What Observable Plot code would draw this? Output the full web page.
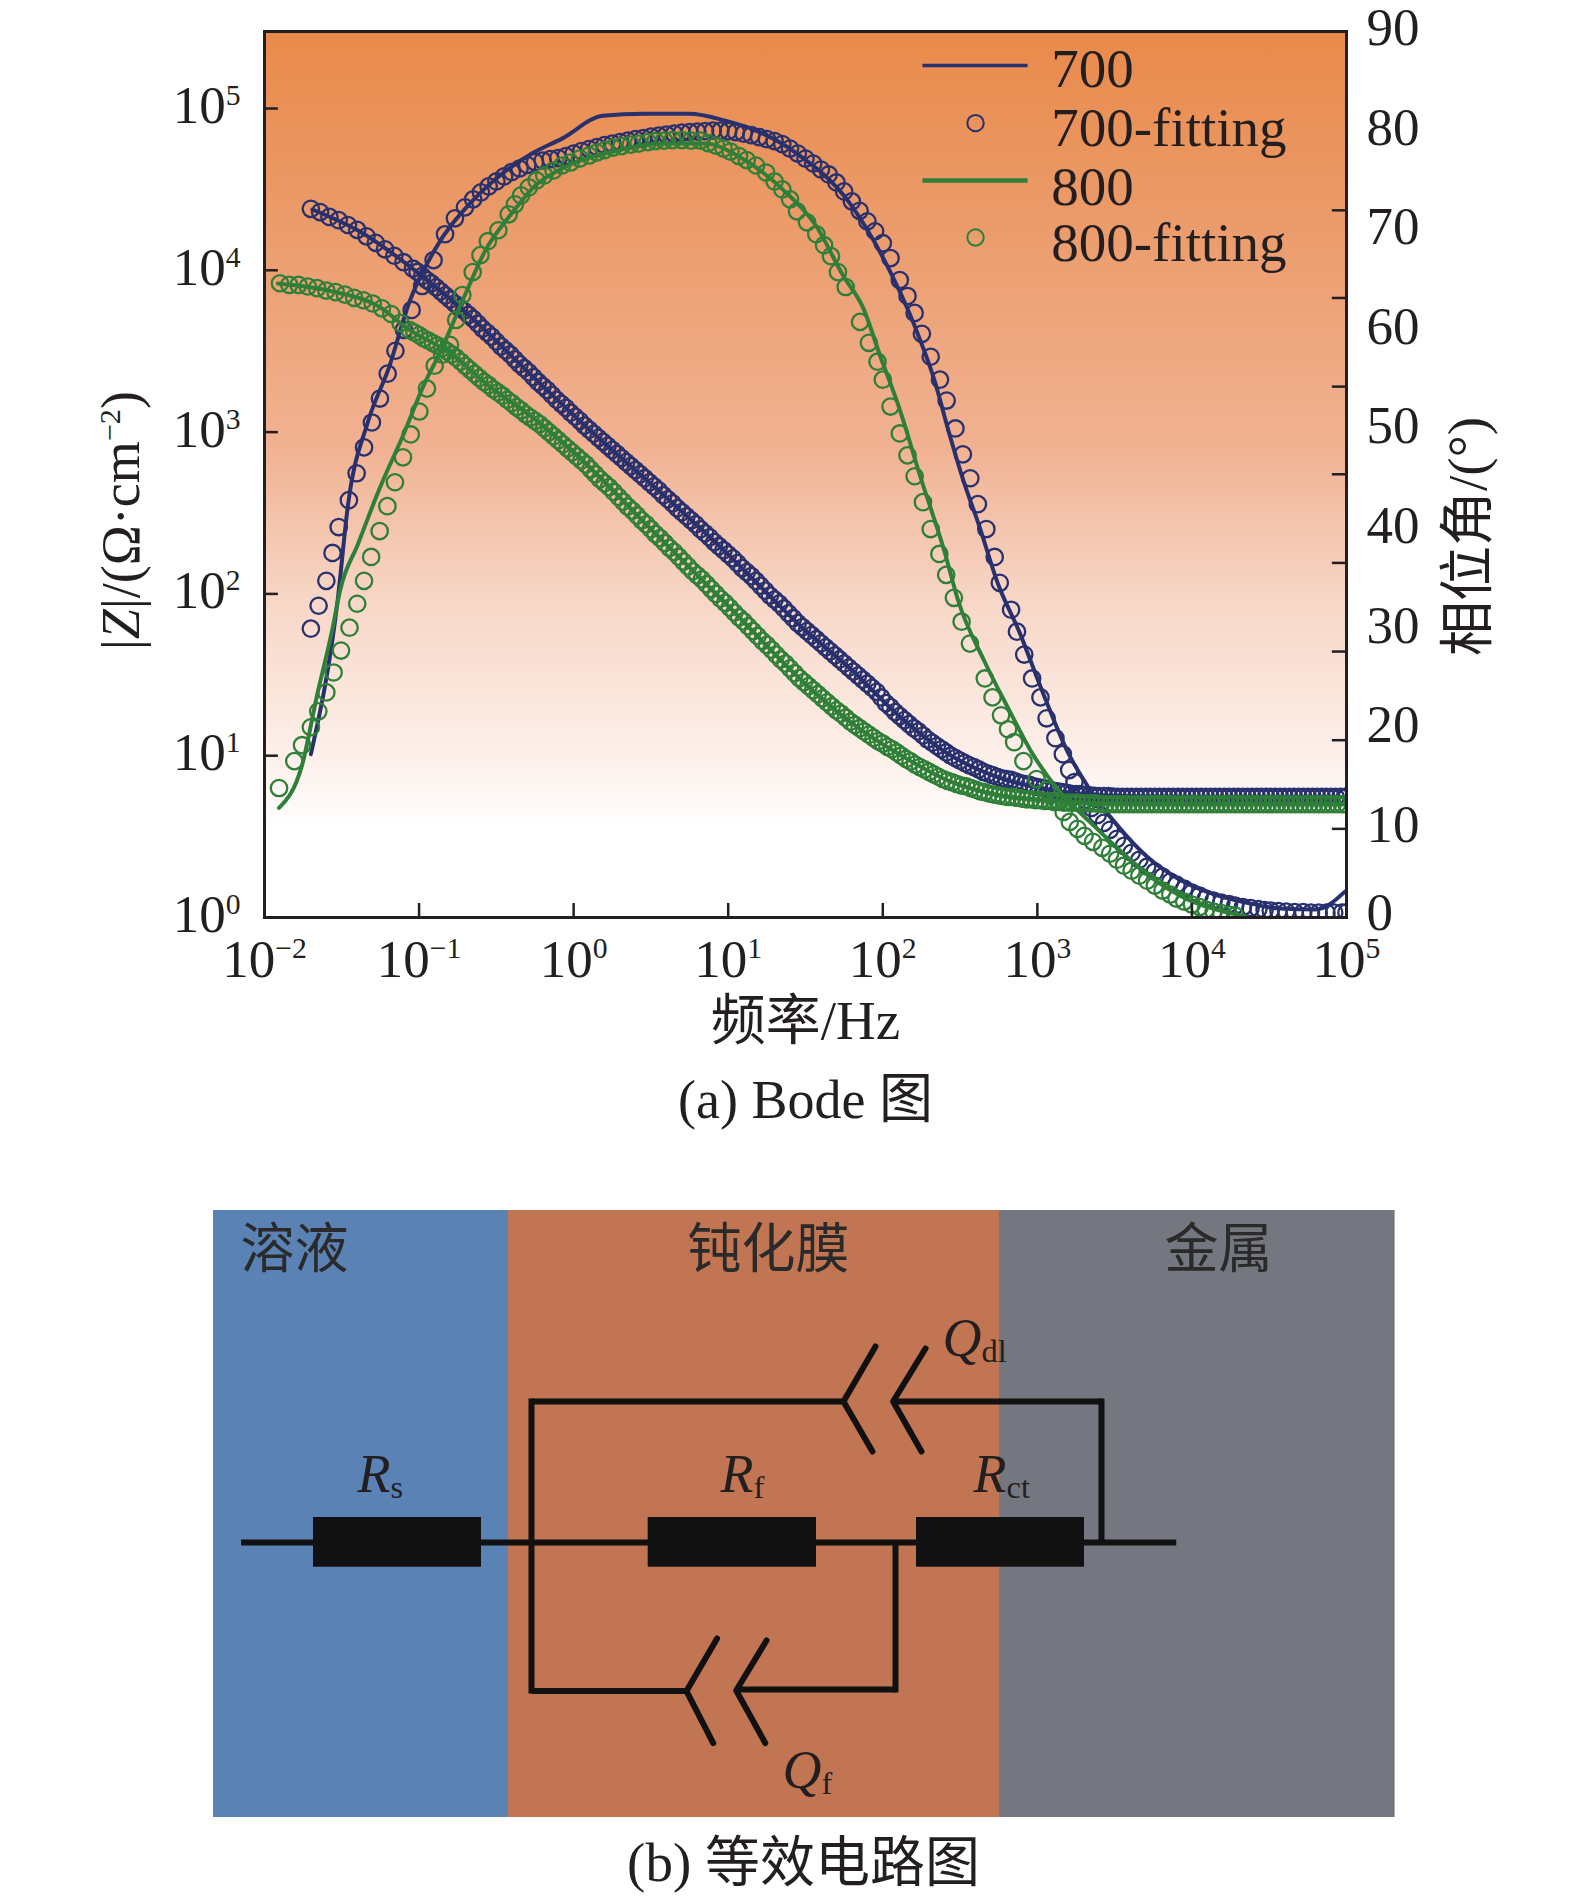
<!DOCTYPE html>
<html><head><meta charset="utf-8">
<script src="https://cdn.jsdelivr.net/npm/d3@7"></script>
<script src="https://cdn.jsdelivr.net/npm/@observablehq/plot@0.6"></script>
<style>html,body{margin:0;padding:0;background:#fff}svg{display:block}</style>
</head><body><div id="a"></div><div id="b"></div>
<script>
// All curves are [log10 frequency, value]. |Z| values are log10(|Z|), phases are degrees.
const zLine700=[[-1.69,4.376],[-1.395,4.246],[-.965,3.953],[-.67,3.716],[-.272,3.35],[.125,2.994],[.52,2.664],[.98,2.262],[1.34,1.92],[1.47,1.80],[1.787,1.54],[2.11,1.242],[2.43,1.007],[2.75,.865],[3.07,.79],[3.39,.754],[4,.745],[5,.745]];
const zLine800=[[-1.913,3.918],[-1.56,3.869],[-1.26,3.776],[-1.065,3.634],[-.8,3.49],[-.57,3.302],[-.24,3.07],[0,2.875],[.5,2.40],[1,1.925],[1.47,1.47],[1.787,1.211],[2.11,1.007],[2.43,.843],[2.75,.756],[3.07,.723],[3.39,.705],[4,.70],[5,.70]];
const phaseLine700=[[-1.70,16.4],[-1.527,31.8],[-1.46,41.4],[-1.33,49.8],[-1.195,55.2],[-1.065,61.7],[-.9,67],[-.67,71.7],[-.5,74.2],[-.27,76.7],[-.075,78.2],[.19,80.5],[.455,80.7],[.75,80.7],[.98,80],[1.18,79],[1.445,76.7],[1.787,71.7],[2.01,66],[2.206,59.4],[2.333,54],[2.43,48.6],[2.525,43.7],[2.62,39.5],[2.75,33.3],[2.88,28.8],[3.035,22.6],[3.2,16.5],[3.325,13.2],[3.515,9.3],[3.71,6.1],[3.9,4],[4.13,2.4],[4.35,1.5],[4.57,.9],[4.8,.8],[4.99,2.6]];
const phaseLine800=[[-1.906,11],[-1.757,15.3],[-1.66,22.3],[-1.56,29],[-1.51,32.9],[-1.395,37.5],[-1.26,42.9],[-1.098,48.6],[-.965,53.6],[-.865,56.7],[-.703,62.5],[-.57,67],[-.405,70.6],[-.24,73.6],[-.075,75.2],[.255,76.9],[.585,77.7],[.85,77.7],[1.08,76.3],[1.345,73.2],[1.57,69.4],[1.745,64.4],[1.87,61.3],[1.985,56.3],[2.11,51],[2.24,44.4],[2.4,36.7],[2.49,31.7],[2.655,25.8],[2.815,20.9],[2.97,16.4],[3.13,12.9],[3.36,9.3],[3.55,6.5],[3.74,4],[3.96,1.9],[4.18,.7],[4.35,.1]];
const zFit700=[[-1.70,4.38],[-1.64,4.36],[-1.58,4.33],[-1.52,4.31],[-1.46,4.28],[-1.40,4.25],[-1.34,4.21],[-1.28,4.17],[-1.22,4.13],[-1.16,4.09],[-1.10,4.05],[-1.04,4.01],[-.98,3.965],[-.92,3.92],[-.86,3.87],[-.80,3.82],[-.74,3.77],[-.68,3.725],[-.62,3.67],[-.56,3.615],[-.50,3.56],[-.44,3.505],[-.38,3.45],[-.32,3.395],[-.26,3.34],[-.20,3.285],[-.14,3.23],[-.08,3.175],[-.02,3.12],[.04,3.07],[.10,3.015],[.16,2.965],[.22,2.915],[.28,2.865],[.34,2.815],[.40,2.765],[.46,2.715],[.52,2.665],[.58,2.61],[.64,2.56],[.70,2.505],[.76,2.455],[.82,2.40],[.88,2.35],[.94,2.295],[1.00,2.245],[1.06,2.19],[1.12,2.135],[1.18,2.08],[1.24,2.02],[1.30,1.965],[1.36,1.91],[1.42,1.85],[1.48,1.795],[1.54,1.745],[1.60,1.695],[1.66,1.645],[1.72,1.595],[1.78,1.545],[1.84,1.495],[1.90,1.445],[1.96,1.395],[2.02,1.325],[2.08,1.27],[2.14,1.22],[2.20,1.17],[2.26,1.125],[2.32,1.08],[2.38,1.04],[2.44,1.00],[2.50,.97],[2.56,.94],[2.62,.915],[2.68,.89],[2.74,.87],[2.80,.855],[2.86,.84],[2.92,.825],[2.98,.81],[3.04,.80],[3.10,.785],[3.16,.775],[3.22,.765],[3.28,.76],[3.34,.755],[3.40,.75],[3.46,.75],[3.52,.745],[3.58,.745],[3.64,.745],[3.70,.745],[3.76,.745],[3.82,.745],[3.88,.745],[3.94,.745],[4.00,.745],[4.06,.745],[4.12,.745],[4.18,.745],[4.24,.745],[4.30,.745],[4.36,.745],[4.42,.745],[4.48,.745],[4.54,.745],[4.60,.745],[4.66,.745],[4.72,.745],[4.78,.745],[4.84,.745],[4.90,.745],[4.96,.745],[5.0,.745]];
const zFit700More=[[-1.01,3.99],[-.95,3.94],[-.89,3.895],[-.83,3.845],[-.77,3.795],[-.71,3.75],[-.65,3.70],[-.59,3.64],[-.53,3.59],[-.47,3.53],[-.41,3.48],[-.35,3.42],[-.29,3.37],[-.23,3.31],[-.17,3.26],[-.11,3.20],[-.05,3.15],[.01,3.095],[.07,3.04],[.13,2.99],[.19,2.94],[.25,2.89],[.31,2.84],[.37,2.79],[.43,2.74],[.49,2.69],[.55,2.64],[.61,2.585],[.67,2.53],[.73,2.48],[.79,2.43],[.85,2.375],[.91,2.32],[.97,2.27],[1.03,2.22],[1.09,2.16],[1.15,2.11],[1.21,2.05],[1.27,1.99],[1.33,1.94],[1.39,1.88],[1.45,1.82],[1.51,1.77],[1.57,1.72],[1.63,1.67],[1.69,1.62],[1.75,1.57],[1.81,1.52],[1.87,1.47],[1.93,1.42],[1.99,1.36],[2.05,1.30],[2.11,1.245],[2.17,1.195],[2.23,1.15],[2.29,1.10],[2.35,1.06],[2.41,1.02],[2.47,.985],[2.53,.955],[2.59,.93],[2.65,.90],[2.71,.88],[2.77,.86],[2.83,.85],[2.89,.83],[2.95,.82],[3.01,.805],[3.07,.79],[3.13,.78],[3.19,.77],[3.25,.762],[3.31,.757],[3.37,.752],[3.43,.75],[3.49,.748],[3.55,.745],[3.61,.745],[3.67,.745],[3.73,.745],[3.79,.745],[3.85,.745],[3.91,.745],[3.97,.745],[4.03,.745],[4.09,.745],[4.15,.745],[4.21,.745],[4.27,.745],[4.33,.745],[4.39,.745],[4.45,.745],[4.51,.745],[4.57,.745],[4.63,.745],[4.69,.745],[4.75,.745],[4.81,.745],[4.87,.745],[4.93,.745],[4.99,.745]];
const zFit800=[[-1.90,3.92],[-1.84,3.91],[-1.78,3.91],[-1.72,3.90],[-1.66,3.89],[-1.60,3.875],[-1.54,3.865],[-1.48,3.85],[-1.42,3.83],[-1.36,3.815],[-1.30,3.795],[-1.24,3.765],[-1.18,3.73],[-1.12,3.675],[-1.06,3.63],[-1.00,3.60],[-.94,3.565],[-.88,3.535],[-.82,3.50],[-.76,3.46],[-.70,3.41],[-.64,3.36],[-.58,3.31],[-.52,3.265],[-.46,3.225],[-.40,3.18],[-.34,3.135],[-.28,3.09],[-.22,3.05],[-.16,3.00],[-.10,2.95],[-.04,2.90],[.02,2.85],[.08,2.80],[.14,2.74],[.20,2.685],[.26,2.63],[.32,2.57],[.38,2.515],[.44,2.455],[.50,2.40],[.56,2.345],[.62,2.285],[.68,2.23],[.74,2.17],[.80,2.115],[.86,2.06],[.92,2.00],[.98,1.945],[1.04,1.885],[1.10,1.83],[1.16,1.77],[1.22,1.71],[1.28,1.655],[1.34,1.595],[1.40,1.54],[1.46,1.48],[1.52,1.43],[1.58,1.38],[1.64,1.33],[1.70,1.28],[1.76,1.235],[1.82,1.19],[1.88,1.15],[1.94,1.11],[2.00,1.075],[2.06,1.04],[2.12,1.00],[2.18,.965],[2.24,.93],[2.30,.90],[2.36,.87],[2.42,.845],[2.48,.825],[2.54,.81],[2.60,.79],[2.66,.775],[2.72,.76],[2.78,.75],[2.84,.745],[2.90,.735],[2.96,.73],[3.02,.725],[3.08,.72],[3.14,.715],[3.20,.71],[3.26,.71],[3.32,.705],[3.38,.705],[3.44,.70],[3.50,.70],[3.56,.70],[3.62,.70],[3.68,.70],[3.74,.70],[3.80,.70],[3.86,.70],[3.92,.70],[3.98,.70],[4.04,.70],[4.10,.70],[4.16,.70],[4.22,.70],[4.28,.70],[4.34,.70],[4.40,.70],[4.46,.70],[4.52,.70],[4.58,.70],[4.64,.70],[4.70,.70],[4.76,.70],[4.82,.70],[4.88,.70],[4.94,.70],[5.0,.70]];
const zFit800More=[[-1.03,3.615],[-.97,3.58],[-.91,3.55],[-.85,3.52],[-.79,3.48],[-.73,3.435],[-.67,3.385],[-.61,3.335],[-.55,3.29],[-.49,3.245],[-.43,3.20],[-.37,3.155],[-.31,3.11],[-.25,3.07],[-.19,3.025],[-.13,2.975],[-.07,2.925],[-.01,2.875],[.05,2.825],[.11,2.77],[.17,2.71],[.23,2.66],[.29,2.60],[.35,2.54],[.41,2.485],[.47,2.43],[.53,2.37],[.59,2.315],[.65,2.26],[.71,2.20],[.77,2.14],[.83,2.09],[.89,2.03],[.95,1.97],[1.01,1.915],[1.07,1.855],[1.13,1.80],[1.19,1.74],[1.25,1.685],[1.31,1.625],[1.37,1.57],[1.43,1.51],[1.49,1.455],[1.55,1.405],[1.61,1.355],[1.67,1.305],[1.73,1.26],[1.79,1.21],[1.85,1.17],[1.91,1.13],[1.97,1.09],[2.03,1.055],[2.09,1.02],[2.15,.98],[2.21,.945],[2.27,.915],[2.33,.885],[2.39,.855],[2.45,.835],[2.51,.815],[2.57,.80],[2.63,.78],[2.69,.765],[2.75,.755],[2.81,.745],[2.87,.74],[2.93,.73],[2.99,.725],[3.05,.72],[3.11,.715],[3.17,.71],[3.23,.71],[3.29,.705],[3.35,.705],[3.41,.70],[3.47,.70],[3.53,.70],[3.59,.70],[3.65,.70],[3.71,.70],[3.77,.70],[3.83,.70],[3.89,.70],[3.95,.70],[4.01,.70],[4.07,.70],[4.13,.70],[4.19,.70],[4.25,.70],[4.31,.70],[4.37,.70],[4.43,.70],[4.49,.70],[4.55,.70],[4.61,.70],[4.67,.70],[4.73,.70],[4.79,.70],[4.85,.70],[4.91,.70],[4.97,.70]];
const phaseFit700=[[-1.70,29],[-1.65,31.3],[-1.60,33.8],[-1.56,36.6],[-1.52,39.2],[-1.454,41.9],[-1.404,44.6],[-1.356,47.2],[-1.305,49.7],[-1.253,52.1],[-1.203,54.6],[-1.153,56.9],[-1.098,59],[-1.048,61],[-.98,63.4],[-.906,66],[-.832,68.6],[-.768,70.2],[-.703,71.3],[-.65,72.1],[-.60,72.8],[-.55,73.4],[-.50,73.9],[-.45,74.4],[-.40,74.85],[-.35,75.2],[-.30,75.55],[-.25,75.85],[-.20,76],[-.15,76.15],[-.10,76.25],[-.05,76.45],[0,76.7],[.05,76.95],[.10,77.15],[.15,77.35],[.20,77.55],[.25,77.7],[.30,77.85],[.35,78],[.40,78.15],[.45,78.25],[.50,78.4],[.55,78.5],[.60,78.6],[.65,78.7],[.70,78.8],[.75,78.85],[.80,78.9],[.85,78.95],[.90,79],[.95,79],[1.00,78.95],[1.05,78.85],[1.10,78.7],[1.15,78.55],[1.20,78.35],[1.25,78.15],[1.30,77.95],[1.35,77.65],[1.40,77.2],[1.45,76.7],[1.50,76.2],[1.55,75.7],[1.60,75.1],[1.65,74.6],[1.70,73.8],[1.75,72.9],[1.80,71.9],[1.85,70.95],[1.90,69.9],[1.95,68.9],[2.0,67.7],[2.05,66.2],[2.11,64],[2.16,62.4],[2.206,60.7],[2.253,58.6],[2.31,56.3],[2.37,54],[2.413,51.9],[2.47,49.1],[2.518,46.5],[2.566,44.1],[2.615,41.5],[2.67,39],[2.724,36.2],[2.757,33.6],[2.83,30.9],[2.868,28.7],[2.915,26.4],[2.966,24],[3.02,22.1],[3.06,20],[3.117,18],[3.165,16.4],[3.206,14.8],[3.24,13.6],[3.275,12.4],[3.31,11.8],[3.35,11],[3.39,10.3],[3.43,9.5],[3.47,8.8],[3.515,7.9],[3.56,7.2],[3.61,6.5],[3.66,5.8],[3.71,5.1],[3.76,4.6],[3.81,4.1],[3.86,3.6],[3.90,3.3],[3.95,2.9],[4.0,2.5],[4.05,2.2],[4.09,1.9],[4.14,1.7],[4.19,1.5],[4.24,1.35],[4.28,1.2],[4.33,1.05],[4.38,.95],[4.43,.85],[4.47,.75],[4.51,.7],[4.56,.65],[4.61,.6],[4.665,.55],[4.72,.55],[4.77,.5],[4.82,.5],[4.87,.5],[4.92,.5],[4.97,.5],[5.0,.5]];
const phaseFit800=[[-1.906,13],[-1.807,15.7],[-1.757,17.3],[-1.70,19.1],[-1.652,20.7],[-1.6,22.6],[-1.553,24.6],[-1.505,26.8],[-1.45,29.1],[-1.4,31.5],[-1.356,33.8],[-1.31,36.2],[-1.255,38.8],[-1.205,41.3],[-1.156,43.7],[-1.104,46.2],[-1.054,48.5],[-.998,50.8],[-.949,53.1],[-.899,55.4],[-.85,56.5],[-.80,57.5],[-.76,60],[-.72,62.5],[-.653,64.8],[-.603,66.5],[-.555,67.9],[-.487,69],[-.42,70.6],[-.38,71.6],[-.34,72.5],[-.29,73.3],[-.24,74],[-.19,74.5],[-.13,75],[-.075,75.5],[-.02,75.8],[.04,76.2],[.10,76.5],[.15,76.8],[.2,77.05],[.255,77.3],[.31,77.45],[.37,77.6],[.42,77.7],[.48,77.85],[.53,77.95],[.585,78],[.64,78.05],[.70,78.05],[.76,78],[.82,78],[.87,77.75],[.92,77.5],[.97,77.2],[1.015,76.9],[1.07,76.45],[1.12,76.05],[1.18,75.5],[1.245,74.8],[1.3,73.9],[1.35,73.1],[1.40,72.1],[1.445,70.9],[1.51,69.8],[1.57,68.6],[1.62,67.5],[1.665,66.4],[1.71,64.8],[1.76,63.3],[1.853,59.8],[1.91,57.7],[1.966,55.8],[2.0,54],[2.05,51.3],[2.11,48.6],[2.16,46.4],[2.206,44.3],[2.26,41.7],[2.31,39],[2.366,36.5],[2.41,34.4],[2.46,32.1],[2.51,29.7],[2.564,27.5],[2.66,24],[2.71,22.1],[2.765,20.3],[2.81,18.9],[2.85,17.6],[2.91,15.7],[2.995,13.9],[3.06,12.8],[3.13,11.7],[3.17,10.6],[3.21,9.6],[3.26,8.9],[3.305,8.2],[3.36,7.6],[3.42,7],[3.47,6.4],[3.515,5.8],[3.56,5.2],[3.61,4.7],[3.66,4.2],[3.71,3.7],[3.76,3.2],[3.81,2.7],[3.86,2.3],[3.9,1.9],[3.95,1.6],[4.0,1.3],[4.05,1.05],[4.09,.8],[4.14,.6],[4.19,.45],[4.24,.3],[4.28,.2]];

const xExponents=[-2,-1,0,1,2,3,4,5];
const yExponents=[0,1,2,3,4,5];
const phaseLabels=[10,20,30,40,50,60,70,80,90];
const phaseTicks=[8.9,17.8,26.7,35.6,44.5,53.3,62.2,71];
const legendNames=["700","700-fitting","800","800-fitting"];
const legendLogZ=[5.136,4.769,4.402,4.06];
const xLabel="频率/Hz", leftLabel="|*Z*|/(Ω·cm^{−2})", rightLabel="相位角/(°)", captionA="(a) Bode 图", captionB="(b) 等效电路图";

// Schematic, in panel units
const regions=[{x1:0,x2:295,c:"#5A82B4"},{x1:295,x2:786,c:"#C17552"},{x1:786,x2:1181.6,c:"#74777F"}];
const regionNames=[{x:81,t:"溶液"},{x:555,t:"钝化膜"},{x:1005,t:"金属"}];
const wires=[[27.6,332,962.7,332],[318,191,630,191],[679.6,191,888,191],[318,188,318,483],[888,188,888,332],[318,480.6,473,480.6],[522.7,479,682,479],[682,482,682,332]];
const plates=[[[662,136],[630,191],[659,241]],[[712,138],[679.6,191],[708,241]],[[503.6,428],[473,480.6],[499.7,532.6]],[[553,430],[522.7,480],[551.8,532.6]]];
const boxes=[[100,268],[434.7,603],[703,871]];
const boxSpan=[307,356.7];
const compLabels=[{x:144,y:281,t:"*R*_{s}"},{x:507,y:281,t:"*R*_{f}"},{x:760,y:281,t:"*R*_{ct}"},{x:729,y:145,t:"*Q*_{dl}"},{x:569,y:577,t:"*Q*_{f}"}];

const NAVY="#28306E", GREEN="#2F7F38", INK="#231F20";
const FONT='"Liberation Serif","Noto Sans CJK SC",serif';
const Fx=d=>10**d[0], Zv=d=>10**d[1];
const toLeftAxis=p=>10**(p*0.06156);   // right axis degrees expressed on the left log axis
const Pv=d=>toLeftAxis(d[1]);
const expLabel=e=>`10^{${e<0?"−"+(-e):e}}`;

function bgDefs(){
  const s=d3.create("svg:defs");
  const g=s.append("linearGradient").attr("id","bg").attr("x1",0).attr("x2",0).attr("y1",0).attr("y2",1);
  [[0,"#E98A4A"],[.2,"#EB9A68"],[.47,"#F1B292"],[.64,"#F7D6C6"],[.82,"#FDF0EA"],[.90,"#FFFFFF"],[1,"#FFFFFF"]]
    .forEach(([o,c])=>g.append("stop").attr("offset",o).attr("stop-color",c));
  return s.node();
}
const dots=(data,y,c)=>Plot.dot(data,{x:Fx,y,r:8.2,stroke:c,strokeWidth:2.3,fill:"none",clip:"frame"});
const line=(data,y,c,w)=>Plot.line(data,{x:Fx,y,stroke:c,strokeWidth:w,curve:"monotone-x",clip:"frame"});

const chartA=Plot.plot({
  width:1575,height:1130,marginLeft:264,marginRight:229,marginTop:31,marginBottom:213,
  style:{fontFamily:FONT,background:"#fff"},
  x:{type:"log",domain:[.01,1e5],axis:null},
  y:{type:"log",domain:[1,10**5.476],axis:null},
  marks:[
    bgDefs,
    Plot.frame({fill:"url(#bg)",stroke:"none"}),
    line(zLine700,Zv,NAVY,4),dots(zFit700.concat(zFit700More),Zv,NAVY),
    line(phaseLine700,Pv,NAVY,4),dots(phaseFit700,Pv,NAVY),
    line(zLine800,Zv,GREEN,4),dots(zFit800.concat(zFit800More),Zv,GREEN),
    line(phaseLine800,Pv,GREEN,4),dots(phaseFit800,Pv,GREEN),
    Plot.frame({stroke:INK,strokeWidth:3,fill:"none"}),
    Plot.ruleX(xExponents.slice(1,-1),{x:d=>10**d,y1:1,y2:1.22,stroke:INK,strokeWidth:2.5}),
    Plot.ruleY(yExponents.slice(1),{y:d=>10**d,x1:.01,x2:.0123,stroke:INK,strokeWidth:2.5}),
    Plot.ruleY(phaseTicks,{y:toLeftAxis,x1:81000,x2:1e5,stroke:INK,strokeWidth:2.5}),
    Plot.text(xExponents,{x:d=>10**d,frameAnchor:"bottom",dy:59,text:expLabel,fontSize:53,fill:INK,textAnchor:"middle",lineAnchor:"bottom"}),
    Plot.text(yExponents,{y:d=>10**d,frameAnchor:"left",dx:-24,dy:14.5,text:expLabel,fontSize:53,fill:INK,textAnchor:"end",lineAnchor:"bottom"}),
    Plot.text(phaseLabels,{y:toLeftAxis,frameAnchor:"right",dx:20,dy:7,text:d=>String(d),fontSize:53,fill:INK,textAnchor:"start",lineAnchor:"middle"}),
    Plot.text([0],{y:toLeftAxis,frameAnchor:"right",dx:20,dy:-4,text:d=>String(d),fontSize:53,fill:INK,textAnchor:"start",lineAnchor:"middle"}),
    Plot.text([leftLabel],{frameAnchor:"left",dx:-143,dy:46,rotate:-90,text:d=>d,fontSize:54,fill:INK,textAnchor:"middle",lineAnchor:"middle"}),
    Plot.text([rightLabel],{frameAnchor:"right",dx:122,dy:62,rotate:-90,text:d=>d,fontSize:55,fill:INK,textAnchor:"middle",lineAnchor:"middle"}),
    Plot.text([xLabel],{frameAnchor:"bottom",dy:104,text:d=>d,fontSize:55,fill:INK,textAnchor:"middle",lineAnchor:"middle"}),
    Plot.text([captionA],{frameAnchor:"bottom",dy:183,text:d=>d,fontSize:54,fill:INK,textAnchor:"middle",lineAnchor:"middle"}),
    // legend
    Plot.ruleY([legendLogZ[0]+.13],{y:d=>10**d,x1:10**2.26,x2:10**2.94,stroke:NAVY,strokeWidth:3.5}),
    Plot.ruleY([legendLogZ[2]+.153],{y:d=>10**d,x1:10**2.26,x2:10**2.94,stroke:GREEN,strokeWidth:4.5}),
    Plot.dot([legendLogZ[1]+.141],{x:10**2.6,y:d=>10**d,r:8.2,stroke:NAVY,strokeWidth:2}),
    Plot.dot([legendLogZ[3]+.143],{x:10**2.6,y:d=>10**d,r:8.2,stroke:GREEN,strokeWidth:2}),
    Plot.text(legendNames,{x:10**3.09,y:(d,i)=>10**legendLogZ[i],text:d=>d,fontSize:55,fill:INK,textAnchor:"start",lineAnchor:"bottom"})
  ]
});

const chartB=Plot.plot({
  width:1575,height:769,marginLeft:213,marginRight:180.4,marginTop:80,marginBottom:82,
  style:{fontFamily:FONT,background:"#fff"},
  x:{domain:[0,1181.6],axis:null},
  y:{domain:[0,607],reverse:true,axis:null},
  marks:[
    Plot.rect(regions,{x1:"x1",x2:"x2",y1:0,y2:607,fill:"c"}),
    Plot.link(wires,{x1:d=>d[0],y1:d=>d[1],x2:d=>d[2],y2:d=>d[3],stroke:"#111",strokeWidth:6}),
    ...plates.map(p=>Plot.line(p,{x:d=>d[0],y:d=>d[1],stroke:"#111",strokeWidth:6})),
    Plot.rect(boxes,{x1:d=>d[0],x2:d=>d[1],y1:boxSpan[0],y2:boxSpan[1],fill:"#111"}),
    Plot.text(regionNames,{x:"x",y:40,text:"t",fontSize:54,fill:"#2a2a2a",textAnchor:"middle",lineAnchor:"middle"}),
    Plot.text(compLabels,{x:"x",y:"y",text:"t",fontSize:54,fill:INK,textAnchor:"start",lineAnchor:"bottom"}),
    Plot.text([captionB],{x:590,y:653,text:d=>d,fontSize:55,fill:INK,textAnchor:"middle",lineAnchor:"middle"})
  ]
});
document.getElementById("a").append(chartA);
document.getElementById("b").append(chartB);

// Turn the small markup in labels into italic, super- and subscript tspans.
function rich(svg){
  svg.querySelectorAll("text").forEach(t=>{
    const s=t.textContent;
    if(!/[\^*]|_\{/.test(s)) return;
    const fs=parseFloat(getComputedStyle(t).fontSize);
    const re=/\*([^*]+)\*|\^\{([^}]+)\}|_\{([^}]+)\}|([^*^_]+)/g;
    t.textContent="";
    let pending=0,m;
    while((m=re.exec(s))){
      const sp=document.createElementNS("http://www.w3.org/2000/svg","tspan");
      let shift=0;
      if(m[1]){sp.textContent=m[1];sp.setAttribute("font-style","italic");}
      else if(m[2]){sp.textContent=m[2];sp.setAttribute("font-size",.56*fs);shift=-.34*fs;}
      else if(m[3]){sp.textContent=m[3];sp.setAttribute("font-size",.6*fs);shift=.12*fs;}
      else sp.textContent=m[4];
      const dy=pending+shift;
      if(dy) sp.setAttribute("dy",dy);
      pending=-shift;
      t.append(sp);
    }
  });
}
rich(chartA);rich(chartB);
</script></body></html>
